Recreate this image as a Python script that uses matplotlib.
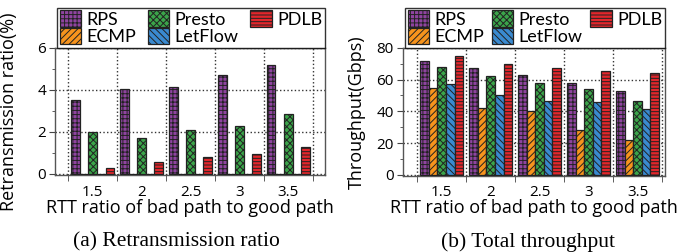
import numpy as np
import matplotlib.pyplot as plt
from matplotlib.patches import Patch

# ---------------------------
# DATA
# ---------------------------
ratios = ['1.5', '2', '2.5', '3', '3.5']
schemes = ['RPS', 'ECMP', 'Presto', 'LetFlow', 'PDLB']

retrans = {
    'RPS': [3.5, 4.05, 4.15, 4.7, 5.2],
    'ECMP': [0, 0, 0, 0, 0],
    'Presto': [2.0, 1.7, 2.1, 2.3, 2.85],
    'LetFlow': [0, 0, 0, 0, 0],
    'PDLB': [0.3, 0.58, 0.82, 0.95, 1.27],
}

throughput = {
    'RPS': [71.5, 67, 63, 57.5, 52.5],
    'ECMP': [54.5, 42, 40, 28, 22],
    'Presto': [68, 62, 58, 54, 46.5],
    'LetFlow': [57, 50.5, 46.5, 46, 41.5],
    'PDLB': [74.5, 70, 67.5, 65.5, 64],
}

# ---------------------------
# STYLE
# ---------------------------
colors = {'RPS': '#8f44a0', 'ECMP': '#f7941d', 'Presto': '#3ba54a',
          'LetFlow': '#3a8ad0', 'PDLB': '#e3262b'}
hatches = {'RPS': '++++', 'ECMP': '/////', 'Presto': 'xxxxx',
           'LetFlow': '\\\\\\\\\\', 'PDLB': '-----'}

plt.rcParams['font.family'] = ['Open Sans', 'DejaVu Sans']
plt.rcParams['hatch.linewidth'] = 0.7
plt.rcParams['hatch.color'] = 'black'

W, H = 685, 252
fig = plt.figure(figsize=(W / 100, H / 100), dpi=100)

# axes boxes in pixels: (left, top, right, bottom)
boxes = [(55, 47.7, 325, 175), (403, 47.7, 665, 175.7)]
axes = [fig.add_axes([l / W, 1 - b / H, (r - l) / W, (b - t) / H]) for l, t, r, b in boxes]
ax1, ax2 = axes

x = np.arange(len(ratios))
bw = 0.175


def draw(ax, box, data, ylim, yticks, yminor, xlim, ylabel):
    l, t, r, b = box
    for i, s in enumerate(schemes):
        ax.bar(x + (i - 2) * bw, data[s], bw, color=colors[s], hatch=hatches[s],
               edgecolor='#222222', linewidth=0.9, zorder=3)
    ax.set_xlim(*xlim)
    ax.set_ylim(*ylim)
    ax.set_xticks(x)
    ax.set_xticklabels(ratios)
    ax.set_xticks(np.arange(len(ratios) + 1) - 0.5, minor=True)
    ax.set_yticks(yticks)
    ax.set_yticks(yminor, minor=True)
    ax.tick_params(axis='x', which='major', length=0, labelsize=11, pad=7)
    ax.tick_params(axis='x', which='minor', length=4, direction='out', color='#444444')
    ax.tick_params(axis='y', which='major', length=4.5, labelsize=11, color='#444444', pad=2)
    ax.tick_params(axis='y', which='minor', length=2.5, color='#444444')
    ax.grid(True, axis='x', which='minor', linestyle=':', color='#333333', linewidth=1, zorder=0)
    ax.grid(True, axis='y', which='major', linestyle=':', color='#333333', linewidth=1, zorder=0)
    for sp in ax.spines.values():
        sp.set_color('#555555')
        sp.set_linewidth(1.0)
    ax.set_xlabel('RTT ratio of bad path to good path', fontsize=13, va='center')
    ax.xaxis.set_label_coords(0.5, -(208 - b) / (b - t))
    ax.set_ylabel(ylabel, fontsize=13, va='center')
    ax.yaxis.set_label_coords(-46 / (r - l), 0.5)


draw(ax1, boxes[0], retrans, (-0.05, 6), [0, 2, 4, 6], [1, 3, 5], (-0.77, 4.75),
     'Retransmission ratio(%)')
draw(ax2, boxes[1], throughput, (-0.5, 80), [0, 20, 40, 60, 80], [10, 30, 50, 70],
     (-0.79, 4.56), 'Throughput(Gbps)')

handles = [Patch(facecolor=colors[s], hatch=hatches[s], edgecolor='#222222',
                 linewidth=0.9, label=s) for s in schemes]

for lx, rx in ((57, 325), (405, 665)):
    fig.legend(handles=handles, ncol=3, loc='lower left',
               bbox_to_anchor=(lx / W, 1 - 47.7 / H, (rx - lx) / W, 47.7 / H),
               mode='expand', prop={'family': ['Lato', 'DejaVu Sans'], 'size': 13},
               frameon=True, fancybox=False, edgecolor='black', borderaxespad=0,
               handlelength=1.2, handleheight=1.0, handletextpad=0.3,
               columnspacing=0.5, labelspacing=0.0, borderpad=0.15)

serif = ['Liberation Serif', 'DejaVu Serif']
fig.text(176 / W, 1 - 242 / H, '(a) Retransmission ratio', fontsize=15.5,
         family=serif, ha='center', va='center')
fig.text(528 / W, 1 - 242 / H, '(b) Total throughput', fontsize=15.5,
         family=serif, ha='center', va='center')

fig.savefig('out.png', dpi=100)
